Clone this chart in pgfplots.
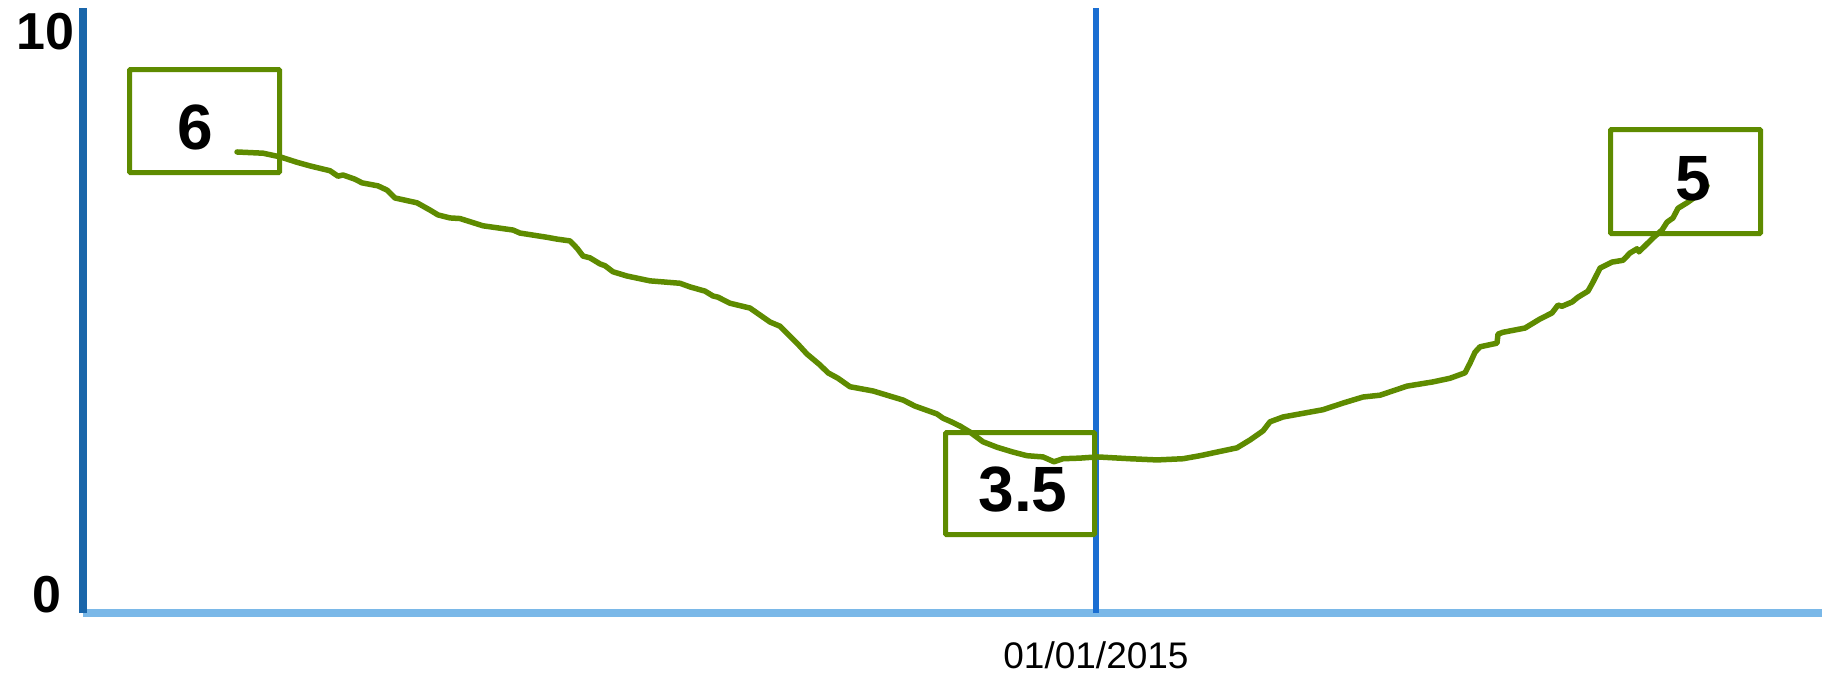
\documentclass[border=0pt]{standalone}
\usepackage{pgfplots}
\pgfplotsset{compat=1.18}
\usepackage{fontspec}
\setmainfont{Liberation Sans}
\definecolor{axblue}{HTML}{1A66AA}
\definecolor{xblue}{HTML}{7AB8E8}
\definecolor{vblue}{HTML}{1A6ED2}
\definecolor{lgreen}{HTML}{5E8B00}
\begin{document}
\begin{tikzpicture}
\begin{axis}[
  at={(83pt,62pt)}, anchor=south west,
  scale only axis, width=1739pt, height=605pt,
  xmin=0, xmax=1739, ymin=0, ymax=10,
  clip=false,
  axis x line=bottom, axis y line=left,
  x axis line style={-, draw=xblue, line width=8pt},
  y axis line style={-, draw=axblue, line width=8pt},
  major tick length=0pt,
  /pgf/number format/assume math mode=true,
  xtick=\empty,
  extra x ticks={1013},
  extra x tick labels={01/01/2015},
  extra x tick style={grid=major, major grid style={draw=vblue, line width=6.5pt},
    xticklabel style={font=\fontsize{37}{42}\selectfont, yshift=-25pt}},
  ytick={0}, yticklabels={0},
  yticklabel style={font=\fontsize{52}{60}\selectfont\bfseries, anchor=south east, inner sep=0pt, xshift=-21pt},
  extra y ticks={10}, extra y tick labels={10},
  extra y tick style={yticklabel style={anchor=north east, xshift=13pt, yshift=-5pt}},
]
\node[draw=lgreen, line width=5pt, minimum width=150pt, minimum height=103pt, rounded corners=1pt, inner sep=0pt] at (axis cs:121.5,8.132) {};
\node[draw=lgreen, line width=5pt, minimum width=149pt, minimum height=102pt, rounded corners=1pt, inner sep=0pt] at (axis cs:937,2.140) {};
\node[draw=lgreen, line width=5pt, minimum width=150pt, minimum height=104pt, rounded corners=1pt, inner sep=0pt] at (axis cs:1602.5,7.132) {};
\addplot[lgreen, line width=5.5pt, line join=round, line cap=round] coordinates {
(154,7.62) (180,7.60) (197,7.54) (214,7.45) (227,7.39) (247,7.31) (255,7.22) (260,7.24)
(272,7.17) (279,7.11) (295,7.06) (304,6.99) (312,6.86) (334,6.78) (347,6.66) (355,6.58)
(367,6.53) (377,6.52) (400,6.40) (430,6.33) (437,6.28) (464,6.21) (474,6.18) (487,6.15)
(494,6.03) (500,5.90) (507,5.87) (517,5.77) (522,5.74) (530,5.64) (544,5.57) (567,5.49)
(597,5.45) (607,5.39) (622,5.32) (630,5.24) (635,5.22) (647,5.12) (667,5.04) (687,4.81)
(697,4.74) (714,4.46) (724,4.28) (737,4.10) (745,3.97) (755,3.88) (767,3.74) (790,3.67)
(800,3.62) (820,3.52) (832,3.42) (854,3.29) (860,3.22) (867,3.17) (877,3.09) (887,2.99)
(900,2.83) (914,2.74) (930,2.66) (944,2.60) (960,2.58) (971,2.50) (980,2.55) (997,2.56)
(1014,2.58) (1047,2.55) (1074,2.53) (1100,2.55) (1117,2.60) (1134,2.66) (1154,2.73)
(1167,2.86) (1180,3.01) (1187,3.16) (1200,3.24) (1240,3.36) (1260,3.47) (1280,3.57)
(1297,3.60) (1324,3.75) (1350,3.82) (1367,3.88) (1382,3.97) (1387,4.13) (1392,4.31)
(1397,4.40) (1414,4.46) (1415,4.61) (1420,4.64) (1442,4.71) (1457,4.86) (1469,4.96)
(1475,5.09) (1479,5.07) (1489,5.14) (1495,5.22) (1505,5.32) (1510,5.47) (1517,5.70)
(1529,5.80) (1540,5.83) (1547,5.95) (1554,6.02) (1556,5.97) (1570,6.20) (1579,6.33)
(1584,6.46) (1590,6.53) (1595,6.69) (1604,6.78) (1615,6.91) (1624,7.06)
};
\node[font=\fontsize{64}{70}\selectfont\bfseries, inner sep=0pt] at (axis cs:112,8.025) {6};
\node[font=\fontsize{64}{70}\selectfont\bfseries, inner sep=0pt] at (axis cs:940,2.033) {3.5};
\node[font=\fontsize{64}{70}\selectfont\bfseries, inner sep=0pt] at (axis cs:1610,7.182) {5};
\end{axis}
\pgfresetboundingbox
\path[use as bounding box] (0,0) rectangle (1828pt,675pt);
\end{tikzpicture}
\end{document}
